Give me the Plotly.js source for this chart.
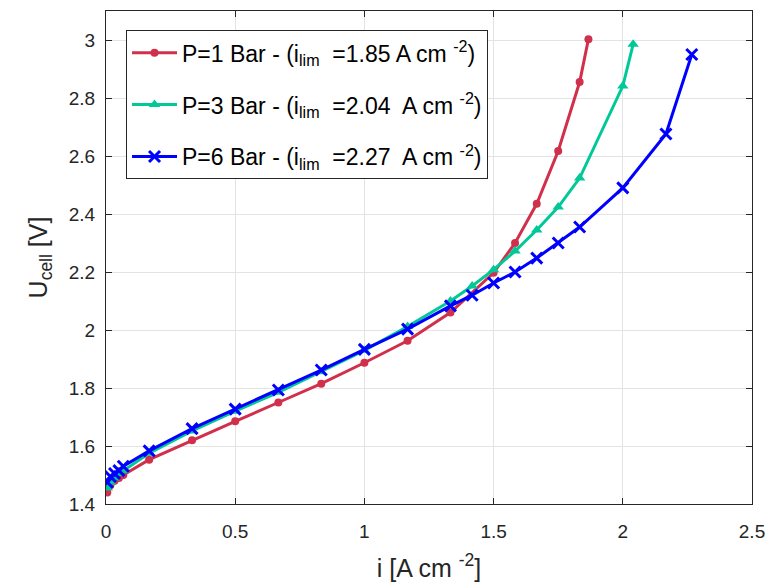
<!DOCTYPE html>
<html>
<head>
<meta charset="utf-8">
<script src="https://cdn.plot.ly/plotly-3.0.1.min.js"></script>
<style>html,body{margin:0;padding:0;background:#fff}#chart{width:770px;height:582px}</style>
</head>
<body>
<div id="chart"></div>
<script>
const names = [
  "P=1 Bar - (i<sub>lim</sub>  =1.85 A cm <sup>-2</sup>)",
  "P=3 Bar - (i<sub>lim</sub>  =2.04  A cm <sup>-2</sup>)",
  "P=6 Bar - (i<sub>lim</sub>  =2.27  A cm <sup>-2</sup>)"
];
const x1 = [0.005,0.017,0.033,0.05,0.067,0.167,0.333,0.5,0.667,0.833,1.0,1.167,1.333,1.5,1.583,1.667,1.75,1.833,1.867];
const y1 = [1.44,1.465,1.48,1.49,1.50,1.553,1.62,1.685,1.75,1.815,1.887,1.963,2.06,2.197,2.30,2.435,2.617,2.855,3.003];
const x3 = [0.005,0.017,0.033,0.05,0.067,0.167,0.333,0.5,0.667,0.833,1.0,1.167,1.333,1.417,1.5,1.583,1.667,1.75,1.833,2.0,2.04];
const y3 = [1.455,1.475,1.49,1.505,1.515,1.575,1.652,1.72,1.785,1.856,1.93,2.012,2.10,2.152,2.208,2.272,2.345,2.424,2.524,2.841,2.985];
const x6 = [0.005,0.017,0.033,0.05,0.067,0.167,0.333,0.5,0.667,0.833,1.0,1.167,1.333,1.417,1.5,1.583,1.667,1.75,1.833,2.0,2.167,2.267];
const y6 = [1.475,1.495,1.505,1.515,1.53,1.583,1.66,1.727,1.793,1.862,1.933,2.003,2.083,2.12,2.162,2.2,2.248,2.30,2.355,2.49,2.676,2.95];
const xTicks = [0,0.5,1,1.5,2,2.5];
const xTickText = ["0","0.5","1","1.5","2","2.5"];
const yTicks = [1.4,1.6,1.8,2,2.2,2.4,2.6,2.8,3];
const yTickText = ["1.4","1.6","1.8","2","2.2","2.4","2.6","2.8","3"];

const red = "#d0304b", green = "#00c997", blue = "#0000ff";
const traces = [
  {x:x1,y:y1,name:names[0],legendgroup:"a",mode:"lines+markers",line:{color:red,width:3},
   marker:{symbol:"circle",size:8,color:red}},
  {x:x3,y:y3,name:names[1],legendgroup:"b",mode:"lines+markers",line:{color:green,width:3},
   marker:{symbol:"triangle-up",size:10,color:green}},
  {x:x6,y:y6,name:names[2],legendgroup:"c",mode:"lines+markers",line:{color:blue,width:3},
   marker:{symbol:"x-thin",size:11,color:blue,line:{color:blue,width:3}}}
];
const axisCommon = {
  showline:true, mirror:"ticks", linecolor:"#262626", linewidth:1,
  ticks:"inside", ticklen:6, tickcolor:"#262626",
  showgrid:true, gridcolor:"#e3e3e3", gridwidth:1, zeroline:false,
  tickfont:{family:"Liberation Sans, Arial, sans-serif", size:19, color:"#262626"}
};
const layout = {
  width:770, height:582,
  margin:{l:106,r:18,t:11,b:78},
  paper_bgcolor:"#fff", plot_bgcolor:"#fff",
  font:{family:"Liberation Sans, Arial, sans-serif", color:"#262626"},
  xaxis:Object.assign({}, axisCommon, {
    range:[0,2.5], tickvals:xTicks, ticktext:xTickText, ticklabelstandoff:10,
    title:{text:"i [A cm <sup>-2</sup>]", font:{size:25, color:"#262626"}, standoff:22}
  }),
  yaxis:Object.assign({}, axisCommon, {
    range:[1.4,3.1], tickvals:yTicks, ticktext:yTickText, ticklabelstandoff:6,
    title:{text:"U<sub>cell</sub> [V]", font:{size:25, color:"#262626"}, standoff:14}
  }),
  showlegend:true,
  legend:{x:0.031, y:0.961, xanchor:"left", yanchor:"top",
    bgcolor:"#fff", bordercolor:"#262626", borderwidth:1, tracegroupgap:19,
    font:{size:23, color:"#000"}, itemwidth:45}
};
Plotly.newPlot("chart", traces, layout, {displayModeBar:false, staticPlot:true});
</script>
</body>
</html>
